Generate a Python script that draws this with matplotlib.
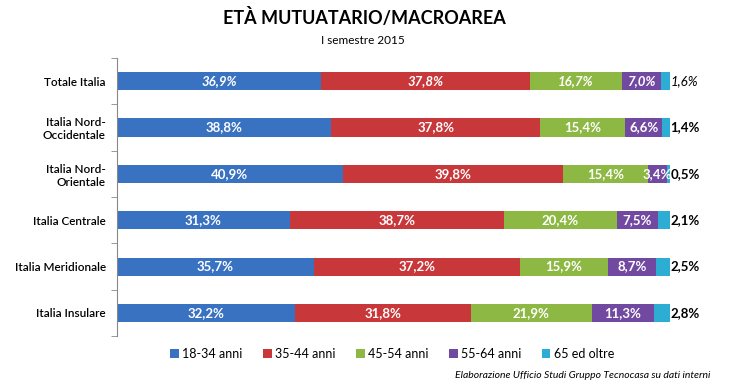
import matplotlib
matplotlib.use("Agg")
import matplotlib.pyplot as plt
from matplotlib.patches import Patch

plt.rcParams['font.family'] = ['Lato', 'DejaVu Sans']

categories = ["Totale Italia", "Italia Nord-\nOccidentale", "Italia Nord-\nOrientale",
              "Italia Centrale", "Italia Meridionale", "Italia Insulare"]
series_names = ["18-34 anni", "35-44 anni", "45-54 anni", "55-64 anni", "65 ed oltre"]
v_18_34 = [36.9, 38.8, 40.9, 31.3, 35.7, 32.2]
v_35_44 = [37.8, 37.8, 39.8, 38.7, 37.2, 31.8]
v_45_54 = [16.7, 15.4, 15.4, 20.4, 15.9, 21.9]
v_55_64 = [7.0, 6.6, 3.4, 7.5, 8.7, 11.3]
v_65 = [1.6, 1.4, 0.5, 2.1, 2.5, 2.8]
series = [v_18_34, v_35_44, v_45_54, v_55_64, v_65]
colors = ["#3A72C2", "#C8373A", "#8CB843", "#7149A0", "#2DADD3"]

fig = plt.figure(figsize=(7.4, 3.89), dpi=100)
ax = fig.add_axes([0.158, 0.136, 0.747, 0.715])

y = list(range(len(categories)))
left = [0.0] * len(categories)
for si, (vals, col) in enumerate(zip(series, colors)):
    ax.barh(y, vals, left=left, height=0.39, color=col, edgecolor='none')
    for i, v in enumerate(vals):
        italic = 'italic' if i == 0 else 'normal'
        lab = f"{v:.1f}%".replace('.', ',')
        if si < 4:
            ax.text(left[i] + v / 2, i, lab, ha='center', va='center', color='white',
                    fontsize=9.5, fontweight='bold', fontstyle=italic)
        else:
            ax.text(left[i] + v + 0.1, i, lab, ha='left', va='center', color='black',
                    fontsize=9.5, fontweight='bold' if i > 0 else 'normal', fontstyle=italic)
    left = [l + v for l, v in zip(left, vals)]

ax.set_xlim(0, 100)
ax.set_ylim(len(categories) - 0.5, -0.5)
ax.set_xticks([])
ax.set_yticks(y)
ax.set_yticklabels(categories, fontsize=8.5, fontweight='semibold')
ax.tick_params(axis='y', length=0, pad=8)
ax.set_yticks([i + 0.5 for i in range(-1, len(categories))], minor=True)
ax.tick_params(axis='y', which='minor', length=4, color='#888888')
for s in ['top', 'right', 'bottom']:
    ax.spines[s].set_visible(False)
ax.spines['left'].set_color('#888888')

fig.text(0.493, 0.955, "ETÀ MUTUATARIO/MACROAREA", ha='center', va='center',
         fontsize=13, fontweight='bold')
fig.text(0.49, 0.897, "I semestre 2015", ha='center', va='center', fontsize=8.5)

handles = [Patch(facecolor=c, label=n) for c, n in zip(colors, series_names)]
fig.legend(handles=handles, loc='center', bbox_to_anchor=(0.53, 0.09), ncol=5,
           frameon=False, fontsize=9, handlelength=0.7, handleheight=0.7,
           handletextpad=0.3, columnspacing=1.6)
fig.text(0.96, 0.035, "Elaborazione Ufficio Studi Gruppo Tecnocasa su dati interni",
         ha='right', va='center', fontsize=7.5, fontstyle='italic')

fig.savefig("out.png", dpi=100)
